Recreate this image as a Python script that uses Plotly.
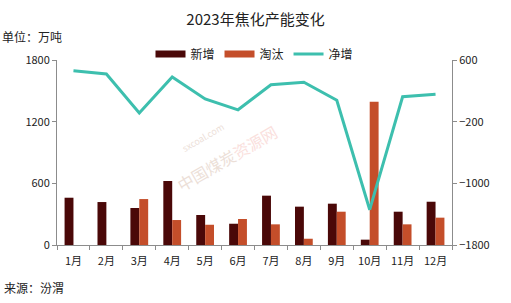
import plotly.graph_objects as go

months = ["1月", "2月", "3月", "4月", "5月", "6月", "7月", "8月", "9月", "10月", "11月", "12月"]
xinzeng = [460, 418, 360, 623, 292, 207, 480, 373, 402, 52, 324, 421]
taotai = [0, 0, 447, 243, 197, 253, 201, 61, 324, 1394, 201, 266]
jingzeng = [460, 418, -87, 380, 95, -46, 279, 312, 78, -1342, 123, 155]
left_ticks = [0, 600, 1200, 1800]
right_ticks = [-1800, -1000, -200, 600]

FONT = "Noto Sans CJK SC, Microsoft YaHei, sans-serif"
C_NEW = "#4a0808"
C_OUT = "#c44e2a"
C_NET = "#3dbfae"

fig = go.Figure()
fig.add_trace(go.Bar(x=months, y=xinzeng, name="新增", marker_color=C_NEW,
                     marker_line_width=0, showlegend=False))
fig.add_trace(go.Bar(x=months, y=taotai, name="淘汰", marker_color=C_OUT,
                     marker_line_width=0, showlegend=False))
fig.add_trace(go.Scatter(x=months, y=jingzeng, name="净增", yaxis="y2", mode="lines",
                         line=dict(color=C_NET, width=3), showlegend=False))
# legend keys drawn as wide strips like the reference
for nm, col, w in [("新增", C_NEW, 7), ("淘汰", C_OUT, 7), ("净增", C_NET, 3)]:
    fig.add_trace(go.Scatter(x=[None], y=[None], name=nm, mode="lines",
                             line=dict(color=col, width=w), showlegend=True))

fig.update_layout(
    width=511, height=303,
    margin=dict(l=57, r=59, t=60, b=58),
    paper_bgcolor="white", plot_bgcolor="white",
    font=dict(family=FONT, size=11, color="#222"),
    barmode="group", bargap=0.46, bargroupgap=0,
    legend=dict(orientation="h", x=0.5, xanchor="center", y=1 + 6/185, yanchor="middle",
                font=dict(size=12, family=FONT), itemwidth=30,
                traceorder="normal", bgcolor="rgba(0,0,0,0)"),
    title=dict(text="2023年焦化产能变化", x=0.5, xanchor="center", y=0.935, yanchor="middle",
               font=dict(size=15, family=FONT, color="#222")),
    xaxis=dict(type="category", showline=True, linecolor="#8c8c8c", linewidth=1,
               ticks="outside", ticklen=4, tickcolor="#8c8c8c", tickson="boundaries",
               showgrid=False, tickfont=dict(size=11), ticklabelstandoff=6),
    yaxis=dict(range=[0, 1800], tickvals=left_ticks, showline=True, linecolor="#8c8c8c",
               linewidth=1, ticks="outside", ticklen=4, tickcolor="#8c8c8c",
               showgrid=False, zeroline=False, tickfont=dict(size=11)),
    yaxis2=dict(range=[-1800, 600], tickvals=right_ticks, overlaying="y", side="right",
                showline=True, linecolor="#8c8c8c", linewidth=1, ticks="outside",
                ticklen=4, tickcolor="#8c8c8c", showgrid=False, zeroline=False,
                tickfont=dict(size=11)),
)

fig.add_annotation(text="单位：万吨", xref="paper", yref="paper", x=-57/395, y=1 + 23/185,
                   xanchor="left", yanchor="middle", showarrow=False,
                   font=dict(size=12, family=FONT, color="#222"))
fig.add_annotation(text="来源：汾渭", xref="paper", yref="paper", x=-55/395, y=-42/185,
                   xanchor="left", yanchor="middle", showarrow=False,
                   font=dict(size=12, family=FONT, color="#222"))
# faint watermark
fig.add_annotation(text="sxcoal.com", xref="paper", yref="paper", x=0.37, y=0.58,
                   showarrow=False, textangle=-30, opacity=0.35,
                   font=dict(size=9, family=FONT, color="#c9a58f"))
fig.add_annotation(text="中国煤炭<span style='color:#f2a7a0'>资源网</span>", xref="paper",
                   yref="paper", x=0.43, y=0.47, showarrow=False, textangle=-30, opacity=0.35,
                   font=dict(size=16, family=FONT, color="#c9a58f"))

fig.write_html("out.html")
